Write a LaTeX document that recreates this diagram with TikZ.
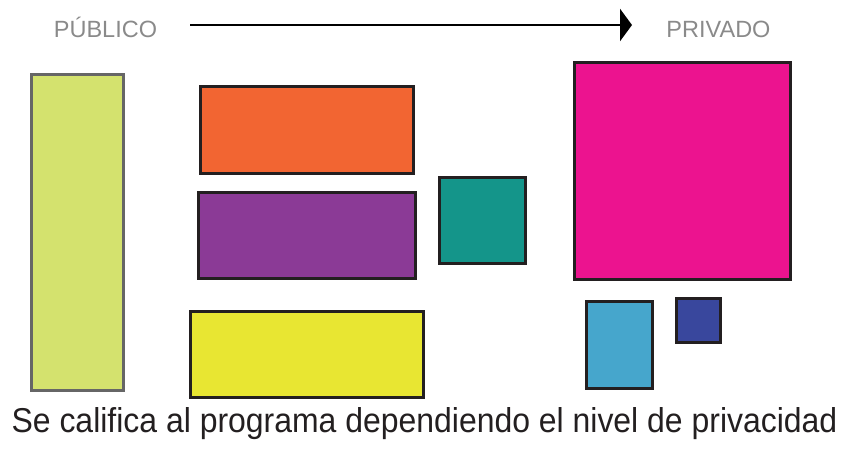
\documentclass[tikz,border=0pt]{standalone}
\usepackage{fontspec}
\setmainfont{Liberation Sans}
\usetikzlibrary{arrows.meta,positioning,calc}

\definecolor{lima}{HTML}{D4E26E}
\definecolor{naranja}{HTML}{F26532}
\definecolor{morado}{HTML}{8B3A96}
\definecolor{amarillo}{HTML}{E8E632}
\definecolor{verdeazul}{HTML}{14958A}
\definecolor{fucsia}{HTML}{EC138F}
\definecolor{celeste}{HTML}{46A6CC}
\definecolor{azul}{HTML}{39479D}
\definecolor{borde}{HTML}{231F20}
\definecolor{gris}{HTML}{8A8A8A}

\tikzset{
    caja/.style={draw=borde, line width=3pt},
    rotulo/.style={text=gris, font=\fontsize{23.5}{26}\selectfont, inner sep=0pt, anchor=base}
}

\begin{document}
\begin{tikzpicture}[x=1pt, y=-1pt, line width=0.9pt]

    \useasboundingbox (0,0) rectangle (842,448);

    % --- header: scale of privacy ---
                \node[rotulo] (pub) at (105.5,37) {PÚBLICO};
                \node[rotulo] (priv) at (718.5,37) {PRIVADO};
                \coordinate (ini) at (190,25);
                \coordinate (fin) at (632,25);
                \draw[line width=2.8pt, -{Triangle[length=12pt,width=32pt]}] (ini) -- (fin);

    % --- boxes (pixel corners of the reference) ---
                \fill[lima, draw=gray!80!black, line width=3pt] (31,74) rectangle (123,390);
                \fill[naranja, caja] (200,86) rectangle (413,173);
                \fill[morado, caja] (198,192) rectangle (415,278);
                \fill[amarillo, caja] (190,311) rectangle (423,397);
                \fill[verdeazul, caja] (439,177) rectangle (525,263);
                \fill[fucsia, caja] (574,62) rectangle (790,279);
                \fill[celeste, caja] (586,301) rectangle (652,388);
                \fill[azul, caja] (676,298) rectangle (720,342);

    % --- caption ---
                \node[inner sep=0pt, anchor=base, text=borde, font=\fontsize{34.5}{38}\selectfont] (pie) at (424.5,432)
                    {\scalebox{0.926}[1]{Se califica al programa dependiendo el nivel de privacidad}};

\end{tikzpicture}
\end{document}
